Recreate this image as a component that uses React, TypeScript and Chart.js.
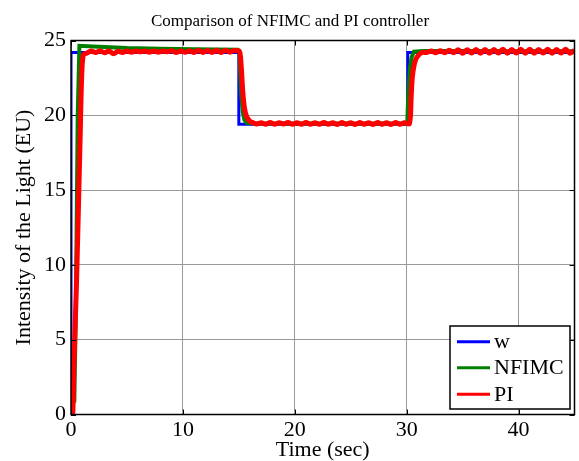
import React, { useEffect, useRef } from "react";
import { Chart, registerables } from "chart.js";

Chart.register(...registerables);

const chartTitle = "Comparison of NFIMC and PI controller";
const xAxisTitle = "Time (sec)";
const yAxisTitle = "Intensity of the Light (EU)";
const xTicks = [0, 10, 20, 30, 40];
const yTicks = [0, 5, 10, 15, 20, 25];
const seriesNames = ["w", "NFIMC", "PI"];
const seriesColors = ["#0000ff", "#008000", "#ff0000"];

// reference w
const wTime = [0, 0, 15, 15, 30.1, 30.1, 45];
const wValue = [0, 24.2, 24.2, 19.4, 19.4, 24.2, 24.2];

// NFIMC
const nTime = [0, 0.03, 0.3, 0.45, 0.6, 0.75, 2, 5, 8, 11, 14.9, 15.05, 15.2, 15.35, 15.5, 15.7, 16.5, 20, 25, 30.05, 30.15, 30.3, 30.45, 30.65, 31.5, 35, 40, 45];
const nValue = [0, 0.8, 0.9, 8, 20, 24.65, 24.6, 24.5, 24.45, 24.42, 24.38, 24.2, 21.5, 20.2, 19.7, 19.5, 19.45, 19.45, 19.45, 19.45, 21.5, 23.2, 23.9, 24.25, 24.3, 24.3, 24.28, 24.28];

// PI
const pTime = [
  0, 0.15, 0.25, 0.5, 0.8, 0.95, 1.1, 1.4, 1.8, 2.2, 2.6, 3.0, 3.4, 3.8, 4.2, 4.6, 5.0, 5.4, 5.8, 6.2, 6.6, 7.0, 7.4, 7.8, 8.2, 8.6, 9.0, 9.4, 9.8, 10.2, 10.6, 11.0, 11.4, 11.8, 12.2, 12.6, 13.0, 13.4, 13.8, 14.2, 14.6, 15.05,
  15.2, 15.35, 15.5, 15.7, 16.0, 16.3, 16.6, 17.0, 17.4, 17.8, 18.2, 18.6, 19.0, 19.4, 19.8, 20.2, 20.6, 21.0, 21.4, 21.8, 22.2, 22.6, 23.0, 23.4, 23.8, 24.2, 24.6, 25.0, 25.4, 25.8, 26.2, 26.6, 27.0, 27.4, 27.8, 28.2, 28.6, 29.0, 29.4, 29.8, 30.25,
  30.4, 30.5, 30.65, 30.85, 31.1, 31.4, 31.8, 32.2, 32.6, 33.0, 33.4, 33.8, 34.2, 34.6, 35.0, 35.4, 35.8, 36.2, 36.6, 37.0, 37.4, 37.8, 38.2, 38.6, 39.0, 39.4, 39.8, 40.2, 40.6, 41.0, 41.4, 41.8, 42.2, 42.6, 43.0, 43.4, 43.8, 44.2, 44.6, 45.0,
];
const pValue = [
  0, 0, 3, 9, 18, 22.5, 24.05, 24.15, 24.3, 24.2, 24.32, 24.18, 24.3, 24.12, 24.28, 24.2, 24.3, 24.22, 24.3, 24.24, 24.3, 24.22, 24.3, 24.22, 24.3, 24.24, 24.32, 24.2, 24.3, 24.22, 24.32, 24.2, 24.34, 24.2, 24.33, 24.2, 24.34, 24.2, 24.35, 24.22, 24.33, 24.28,
  23.4, 21.6, 20.5, 19.9, 19.6, 19.5, 19.42, 19.5, 19.4, 19.52, 19.4, 19.5, 19.42, 19.52, 19.4, 19.5, 19.4, 19.52, 19.4, 19.5, 19.4, 19.52, 19.4, 19.5, 19.38, 19.52, 19.4, 19.5, 19.38, 19.52, 19.4, 19.5, 19.38, 19.52, 19.4, 19.5, 19.38, 19.52, 19.4, 19.5, 19.45,
  21.2, 22.5, 23.3, 23.8, 24.05, 24.2, 24.2, 24.3, 24.18, 24.32, 24.18, 24.35, 24.18, 24.38, 24.15, 24.38, 24.16, 24.4, 24.15, 24.4, 24.15, 24.4, 24.16, 24.42, 24.15, 24.4, 24.16, 24.42, 24.15, 24.42, 24.15, 24.4, 24.16, 24.42, 24.15, 24.4, 24.16, 24.42, 24.15, 24.35,
];

const FONT = "'Liberation Serif', 'Times New Roman', serif";

const toPoints = (t: number[], v: number[]) => t.map((x, i) => ({ x, y: v[i] }));

const framePlugin = {
  id: "frameAndLegend",
  afterDraw(chart: any) {
    const { ctx, chartArea } = chart;
    const { left, right, top, bottom } = chartArea;
    const xs = chart.scales.x;
    const ys = chart.scales.y;
    ctx.save();
    // frame
    ctx.strokeStyle = "#000";
    ctx.lineWidth = 1.5;
    ctx.strokeRect(left, top, right - left, bottom - top);
    // inner ticks
    ctx.lineWidth = 1;
    ctx.beginPath();
    xTicks.forEach((v) => {
      const px = Math.round(xs.getPixelForValue(v)) + 0.5;
      ctx.moveTo(px, bottom);
      ctx.lineTo(px, bottom - 5);
      ctx.moveTo(px, top);
      ctx.lineTo(px, top + 5);
    });
    yTicks.forEach((v) => {
      const py = Math.round(ys.getPixelForValue(v)) + 0.5;
      ctx.moveTo(left, py);
      ctx.lineTo(left + 5, py);
      ctx.moveTo(right, py);
      ctx.lineTo(right - 5, py);
    });
    ctx.stroke();
    // title
    ctx.fillStyle = "#000";
    ctx.font = `17px ${FONT}`;
    ctx.textAlign = "center";
    ctx.textBaseline = "alphabetic";
    ctx.fillText(chartTitle, 290, 26);
    // legend
    const bx = 450, by = 326, bw = 120, bh = 83;
    ctx.fillStyle = "#fff";
    ctx.fillRect(bx, by, bw, bh);
    ctx.lineWidth = 1.5;
    ctx.strokeStyle = "#000";
    ctx.strokeRect(bx, by, bw, bh);
    const rowsY = [341.7, 367.7, 394.3];
    seriesNames.forEach((name, i) => {
      ctx.strokeStyle = seriesColors[i];
      ctx.lineWidth = 3;
      ctx.beginPath();
      ctx.moveTo(457, rowsY[i]);
      ctx.lineTo(490, rowsY[i]);
      ctx.stroke();
      ctx.fillStyle = "#000";
      ctx.font = `22px ${FONT}`;
      ctx.textAlign = "left";
      ctx.textBaseline = "middle";
      ctx.fillText(name, 494, rowsY[i] + 1);
    });
    ctx.restore();
  },
};

export default function App() {
  const ref = useRef<HTMLCanvasElement | null>(null);
  useEffect(() => {
    document.body.style.margin = "0";
    if (!ref.current) return;
    const chart = new Chart(ref.current, {
      type: "line",
      data: {
        datasets: [
          {
            label: seriesNames[0],
            data: toPoints(wTime, wValue),
            borderColor: seriesColors[0],
            borderWidth: 3,
            pointRadius: 0,
            tension: 0,
            order: 3,
          },
          {
            label: seriesNames[1],
            data: toPoints(nTime, nValue),
            borderColor: seriesColors[1],
            borderWidth: 4,
            pointRadius: 0,
            tension: 0,
            order: 2,
          },
          {
            label: seriesNames[2],
            data: toPoints(pTime, pValue),
            borderColor: seriesColors[2],
            borderWidth: 5,
            pointRadius: 0,
            tension: 0.3,
            order: 1,
          },
        ],
      },
      options: {
        animation: false,
        responsive: false,
        maintainAspectRatio: false,
        layout: { padding: { top: 40.5, right: 4.5, left: 0, bottom: 0 } },
        plugins: {
          legend: { display: false },
          title: { display: false },
          tooltip: { enabled: false },
        },
        scales: {
          x: {
            type: "linear",
            min: 0,
            max: 45,
            afterBuildTicks: (s: any) => {
              s.ticks = xTicks.map((v) => ({ value: v }));
            },
            afterFit: (s: any) => {
              s.height = 46.5;
            },
            grid: { color: "#999", lineWidth: 1, drawTicks: false },
            border: { display: false },
            ticks: {
              color: "#000",
              padding: 3,
              maxRotation: 0,
              font: { family: FONT, size: 22 },
            },
            title: {
              display: true,
              text: xAxisTitle,
              color: "#000",
              font: { family: FONT, size: 22, lineHeight: 1 },
              padding: { top: 0, bottom: 0 },
            },
          },
          y: {
            type: "linear",
            min: 0,
            max: 25,
            afterBuildTicks: (s: any) => {
              s.ticks = yTicks.map((v) => ({ value: v }));
            },
            afterFit: (s: any) => {
              s.width = 71;
            },
            grid: { color: "#999", lineWidth: 1, drawTicks: false },
            border: { display: false },
            ticks: {
              color: "#000",
              padding: 5,
              font: { family: FONT, size: 22 },
            },
            title: {
              display: true,
              text: yAxisTitle,
              color: "#000",
              font: { family: FONT, size: 22, lineHeight: 1 },
              padding: { top: 13, bottom: 0 },
            },
          },
        },
      },
      plugins: [framePlugin],
    });
    return () => chart.destroy();
  }, []);
  return (
    <div style={{ width: 579, height: 461 }}>
      <canvas ref={ref} width={579} height={461} style={{ display: "block" }} />
    </div>
  );
}
